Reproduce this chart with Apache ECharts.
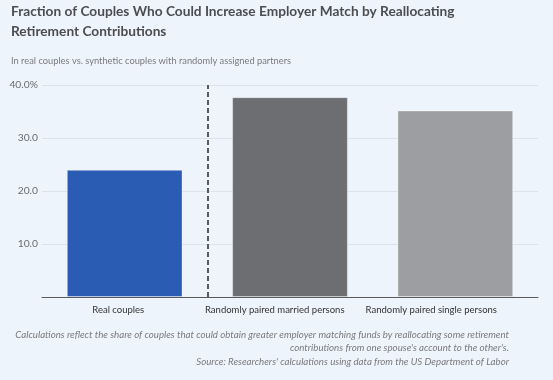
<!DOCTYPE html>
<html><head><meta charset="utf-8">
<script src="https://cdn.jsdelivr.net/npm/echarts@6/dist/echarts.min.js"></script>
<style>html,body{margin:0;padding:0;background:#EEF4FC;}#c{width:553px;height:380px;}</style>
</head><body><div id="c"></div>
<script>
const categories = ["Real couples", "Randomly paired married persons", "Randomly paired single persons"];
const values = [24.0, 37.7, 35.2];
const barColors = ["#2A5CB3", "#6D6E71", "#9D9EA1"];
const yTicks = [10, 20, 30, 40];
const dividerPosition = [1];

const FONT = "Lato";
const chart = echarts.init(document.getElementById('c'), null, {renderer: 'canvas'});
chart.setOption({
  backgroundColor: '#EEF4FC',
  animation: false,
  title: [
    {text: 'Fraction of Couples Who Could Increase Employer Match by Reallocating\nRetirement Contributions', left: 11, top: 2, padding: 0,
     textStyle: {fontFamily: FONT, fontSize: 13.7, fontWeight: 'bold', color: '#4D4D50', lineHeight: 19.5}},
    {text: 'In real couples vs. synthetic couples with randomly assigned partners', left: 11, top: 56, padding: 0,
     textStyle: {fontFamily: FONT, fontSize: 9.3, fontWeight: 'normal', color: '#7A7A7D'}}
  ],
  graphic: [
    {type: 'text', x: 509, y: 328, style: {text: "Calculations reflect the share of couples that could obtain greater employer matching funds by reallocating some retirement\ncontributions from one spouse's account to the other's.", align: 'right', font: 'italic 9.7px ' + FONT, fill: '#7A7A7D', lineHeight: 13.5}},
    {type: 'text', x: 509, y: 357, style: {text: "Source: Researchers' calculations using data from the US Department of Labor", align: 'right', font: 'italic 9.7px ' + FONT, fill: '#7A7A7D'}}
  ],
  grid: [
    {left: 42, right: 15, top: 85, bottom: 83},
    {left: 40, right: 43.5, top: 85, bottom: 83}
  ],
  xAxis: [
    {type: 'category', gridIndex: 0, data: categories, axisTick: {show: false},
     axisLine: {lineStyle: {color: '#5A5A5D', width: 1}},
     axisLabel: {show: false}},
    {type: 'value', gridIndex: 0, min: 0, max: 3, show: false},
    {type: 'category', gridIndex: 1, data: categories, axisTick: {show: false},
     axisLine: {show: false},
     axisLabel: {interval: 0, fontFamily: FONT, fontSize: 9.5, color: '#333', margin: 8}}
  ],
  yAxis: [
    {type: 'value', gridIndex: 0, min: 0, max: 40, interval: 10,
    axisLine: {show: false}, axisTick: {show: false},
    splitLine: {lineStyle: {color: '#DCE3EC', width: 1}},
    axisLabel: {fontFamily: FONT, fontSize: 10.3, color: '#6A6A6D', margin: 4,
      formatter: v => v === 0 ? '' : (v === 40 ? v.toFixed(1) + '%' : v.toFixed(1))}},
    {type: 'value', gridIndex: 1, min: 0, max: 40, show: false}
  ],
  series: [
    {type: 'bar', xAxisIndex: 0, yAxisIndex: 0, barWidth: '70%',
     data: values.map((v, i) => ({value: v, itemStyle: {color: barColors[i], borderColor: 'rgba(255,255,255,0.35)', borderWidth: 1}}))},
    {type: 'line', xAxisIndex: 1, yAxisIndex: 0, data: [],
     markLine: {silent: true, symbol: 'none', label: {show: false},
       lineStyle: {type: [5, 3], color: '#5A5A5D', width: 2},
       data: dividerPosition.map(x => ({xAxis: x}))}}
  ]
});
</script></body></html>
